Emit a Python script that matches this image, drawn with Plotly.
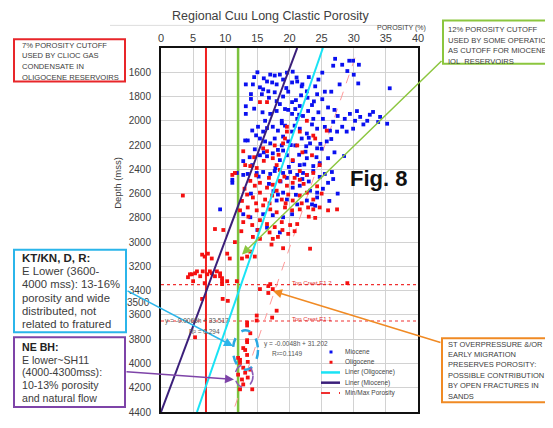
import plotly.graph_objects as go

# ---------------- data ----------------
miocene_por = [27.1,28.2,29.3,29.9,30.8,26.8,17.0,17.7,18.5,19.6,20.5,21.1,25.1,13.2,14.3,15.4,15.9,16.7,17.7,
               16.5,17.3,19.0,20.4,21.2,21.9,22.7,24.0,24.3,25.1,30.7,35.6,15.7,18.0,18.5,19.3,20.4,20.9,21.6,
               13.2,17.0,18.0,18.8,20.4,21.2,22.1,22.9,23.7,25.2,26.8,27.5,28.6,29.4,30.2,31.0,32.1,33.0,34.1,35.2,
               15.1,15.9,17.4,18.2,19.3,20.4,21.6,22.7,24.3,26.3,27.4,28.2,28.9,29.9,
               13.1,13.5,15.4,17.0,17.7,18.8,19.8,20.9,21.9,23.2,24.3,25.8,
               12.8,14.2,15.4,16.5,17.4,18.5,19.6,20.5,21.6,22.7,23.7,24.7,26.0,
               11.8,12.8,13.5,14.9,15.9,17.0,17.7,19.0,20.1,21.2,22.1,22.7,23.7,24.7,25.5,26.6,
               11.1,11.1,26.0,9.2,13.9,12.8,15.9,17.4,19.0,20.4,18.0,19.6,21.2,22.7,24.3,23.5,20.5,21.6,23.2,24.3,18.2,19.0,
               14.6,16.0,19.0,22.5,25.0,27.0,28.5,16.8,18.6,22.0,25.2,27.5,24.0,26.2,21.0,17.5,14.0,15.0,16.5,18.5,
               13.2,14.0,22.8,23.5,26.0,30.5,32.5,16.2,14.8,19.0,23.0,26.5,31.5,33.8,29.0,30.0,27.8,26.5,19.8,21.8,14.5,
               15.0,16.0,18.0,19.5,22.0,23.0,24.5,14.0,16.8,19.0,21.0,23.8,25.5,14.5,15.8,19.8,21.5,24.5,27.0,16.5,
               18.8,20.8,23.5,25.5,14.2,16.2,18.2,20.2,22.6,24.8,13.8,17.8,19.9,22.3,24.2,21.5,15.2,19.6,23.0,26.8]
miocene_depth = [1489,1538,1505,1505,1538,1546,1619,1627,1619,1603,1595,1643,1603,1700,1700,1724,1741,1757,1765,
                 1676,1684,1660,1684,1676,1716,1757,1716,1781,1822,1692,1732,1781,1838,1862,1903,1846,1903,1878,
                 1943,1943,1919,2000,1943,1984,1960,1919,1984,1984,2008,1960,1984,1943,2000,1968,2000,1927,1968,2024,
                 2049,2089,2049,2081,2040,2089,2065,2105,2065,2081,2089,2049,2089,2065,
                 2162,2162,2146,2186,2146,2203,2170,2203,2146,2186,2227,2170,
                 2332,2365,2284,2292,2268,2324,2284,2332,2365,2308,2373,2349,2308,
                 2430,2446,2438,2430,2422,2438,2414,2430,2422,2446,2430,2446,2414,2462,2438,2422,
                 2511,2486,2511,2730,2795,2770,2770,2778,2795,2770,2657,2649,2689,2657,2632,2689,2551,2535,2576,2592,2608,2592,
                 2235,2260,2245,2255,2230,2260,2290,2520,2500,2480,2560,2600,2700,2660,2610,2580,2600,2900,2880,2920,
                 1880,1820,1810,1870,1890,1920,1950,2000,2120,2130,2140,2150,2030,2010,1590,1620,1700,1760,1760,1790,1640,
                 1600,1650,1700,1730,1700,1640,1660,1780,1810,1800,1830,1840,1760,1900,1930,1910,1950,1930,1910,2060,
                 2020,2040,2030,2050,2080,2170,2240,2200,2210,2190,2300,2390,2380,2360,2300,2280,2460,2470,2500,2480]

oligocene_por = [15.4,16.5,15.9,16.5,17.7,19.6,19.6,19.3,19.0,21.6,22.7,21.2,23.7,24.0,25.8,23.5,12.8,13.1,13.9,14.9,
                 17.4,18.0,18.5,20.5,21.6,22.7,23.7,24.7,11.1,11.5,3.4,
                 13.9,14.6,15.4,16.5,17.4,18.5,19.6,20.5,21.6,
                 13.4,14.3,15.4,16.2,17.3,18.0,18.8,19.8,20.5,21.6,22.7,23.7,24.7,26.0,27.4,
                 12.3,13.5,14.9,15.9,17.0,18.0,19.3,20.4,21.6,22.9,23.7,
                 12.8,14.2,15.4,16.5,17.7,18.8,20.1,21.2,
                 14.3,15.4,17.4,18.2,19.8,23.2,
                 8.4,9.7,10.3,10.7,12.6,13.4,14.6,13.9,6.4,6.8,7.3,7.9,
                 4.5,5.3,6.1,6.5,7.2,7.9,8.4,9.2,9.5,5.0,10.3,11.8,17.0,29.0,
                 4.2,4.8,5.6,7.6,8.7,9.2,9.5,6.8,9.5,6.4,9.6,10.4,
                 15.4,16.7,16.7,17.4,18.0,17.3,14.9,14.9,13.4,13.4,13.9,13.4,12.8,12.0,12.3,13.4,13.5,12.8,13.9,13.1,
                 5.3,13.4,13.1,12.3,12.0,12.6,13.5,12.8,12.3,14.2,
                 14.8,16.8,19.2,20.8,22.2,24.3,25.0,13.0,12.6,14.8,16.9,19.4,21.9,23.0,24.0,13.6,15.1,16.9,18.9,20.8,
                 12.5,17.2,19.0,11.5,18.3,16.0,22.0,14.5]
oligocene_depth = [1846,1846,2227,2251,2203,2049,2089,2146,2186,2089,2000,2203,2122,2146,2081,2284,2251,2365,2373,2389,
                   2308,2365,2405,2324,2414,2446,2430,2365,2446,2430,2616,
                   2495,2535,2511,2551,2527,2495,2535,2511,2486,
                   2608,2632,2592,2649,2616,2576,2649,2608,2657,2616,2592,2649,2714,2738,2730,
                   2738,2714,2738,2697,2730,2754,2714,2738,2730,2714,2730,
                   2835,2859,2819,2851,2876,2835,2859,2851,
                   2957,2973,2973,2957,2932,3054,
                   2892,2900,3095,3135,3135,3119,3119,3078,3103,3119,3095,3135,
                   3265,3257,3281,3241,3265,3257,3281,3257,3297,3322,3322,3322,3346,3338,
                   3289,3265,3241,3241,3241,3281,3322,3338,3346,3468,3468,3484,
                   3387,3362,3419,3387,3565,3622,3605,3646,3662,3687,3751,3824,3873,3954,3995,3930,3987,4035,4051,4076,
                   3784,3808,3889,3970,4092,4132,4116,4173,4213,4213,
                   2450,2470,2460,2470,2520,2540,2600,2560,2660,2680,2680,2680,2680,2790,2800,2790,2900,2920,2900,2910,
                   2910,3020,3050,3000,2280,2330,2260,2300]

liner_oligocene_por = [25.2, 5.6]
liner_oligocene_depth = [1400, 4400]
liner_miocene_por = [21.2, 0.0]
liner_miocene_depth = [1400, 4400]
minmax_por = [30.2, 11.2]
minmax_depth = [1480, 4400]
cutoff_7 = 7
cutoff_12 = 12
crest_depths = [3350, 3650]
crest_labels = ["Top Crest E1.2", "Top Crest E1.1"]

x_ticks = [0, 5, 10, 15, 20, 25, 30, 35, 40]
y_ticks = list(range(1600, 4401, 200))
x_range = [0, 40]
y_range = [4400, 1400]

# ---------------- layout helpers (reference pixel -> paper) ----------------
OFF = 8                      # page body margin
W, H = 553 - OFF, 428 - OFF
L, R, T, B = 161, 418, 48, 418   # plot frame in reference pixels
def px(x):
    return (x - L) / (R - L)
def py(y):
    return (B - y) / (B - T)

fig = go.Figure()

fig.add_trace(go.Scatter(x=[cutoff_7, cutoff_7], y=[y_range[1], y_range[0]], mode="lines",
                         line=dict(color="#f02020", width=2), showlegend=False))
fig.add_trace(go.Scatter(x=[cutoff_12, cutoff_12], y=[y_range[1], y_range[0]], mode="lines",
                         line=dict(color="#7cc23f", width=2.5), showlegend=False))
for d in crest_depths:
    fig.add_trace(go.Scatter(x=x_range, y=[d, d], mode="lines",
                             line=dict(color="#f03030", width=1.2, dash="dot"), showlegend=False))
fig.add_trace(go.Scatter(x=minmax_por, y=minmax_depth, mode="lines",
                         line=dict(color="#ff9a9a", width=1, dash="dash"), name="Min/Max Porosity", showlegend=False))
fig.add_trace(go.Scatter(x=miocene_por, y=miocene_depth, mode="markers", name="Miocene",
                         marker=dict(symbol="square", size=3.8, color="#0a10f0"), showlegend=False))
fig.add_trace(go.Scatter(x=oligocene_por, y=oligocene_depth, mode="markers", name="Oligocene",
                         marker=dict(symbol="square", size=3.8, color="#f51010"), showlegend=False))
fig.add_trace(go.Scatter(x=liner_oligocene_por, y=liner_oligocene_depth, mode="lines", name="Liner (Oligocene)",
                         line=dict(color="#19e3f5", width=2), showlegend=False))
fig.add_trace(go.Scatter(x=liner_miocene_por, y=liner_miocene_depth, mode="lines", name="Liner (Miocene)",
                         line=dict(color="#3b1f7a", width=2), showlegend=False))

shapes = []
ann = []
FONT = "Liberation Sans, Arial, sans-serif"
TXT = "#3c3c3c"

def text(x, y, s, size, color=TXT, xanchor="left", bold=False, angle=0):
    if bold:
        s = "<b>" + s + "</b>"
    ann.append(dict(x=px(x), y=py(y), xref="paper", yref="paper", text=s, showarrow=False,
                    xanchor=xanchor, yanchor="middle", textangle=angle,
                    font=dict(family=FONT, size=size, color=color)))

def box(x0, y0, x1, y1, color, width=2):
    shapes.append(dict(type="rect", xref="paper", yref="paper", x0=px(x0), x1=px(x1), y0=py(y1), y1=py(y0),
                       line=dict(color=color, width=width), fillcolor="white", layer="above"))

def arrow(tx, ty, hx, hy, color, width=1.5):
    ann.append(dict(x=px(hx), y=py(hy), xref="paper", yref="paper", ax=tx - hx, ay=ty - hy,
                    text="", showarrow=True, arrowhead=2, arrowsize=1.2, arrowwidth=width,
                    arrowcolor=color, standoff=0, startstandoff=0))

# title and underline
text(270, 15, "Regional Cuu Long Clastic Porosity", 12.5, "#404040", xanchor="center")
shapes.append(dict(type="line", xref="paper", yref="paper", x0=px(110), x1=px(420), y0=py(25), y1=py(25),
                   line=dict(color="#dddddd", width=1)))
text(428, 27.5, "POROSITY (%)", 7, "#404040", xanchor="right")
text(118, 185, "Depth (mss)", 9.5, "#404040", xanchor="center", angle=-90)
text(152, 307, "3500", 10, "#404040", xanchor="right")

# red box
box(14, 39, 125, 82, "#e8262a")
for i, s in enumerate(["7% POROSITY CUTOFF", "USED BY CLIOC GAS", "CONDENSATE IN", "OLIGOCENE RESERVOIRS"]):
    text(20, 45 + i * 11, s, 7.6)

# green box
box(443, 20, 570, 64, "#8cc63f")
for i, s in enumerate(["12% POROSITY CUTOFF", "USED BY SOME OPERATION", "AS CUTOFF FOR MIOCENE", "IOL  RESERVOIRS"]):
    text(446, 29 + i * 11, s, 7.6)
arrow(443, 63, 242, 258, "#8cc63f")

# cyan box
box(14, 253, 126, 337, "#2bb5ea")
cy_lines = ["KT/KN, D, R:", "E Lower (3600-", "4000 mss): 13-16%", "porosity and wide", "distributed, not", "related to fratured"]
for i, s in enumerate(cy_lines):
    text(20, 261 + i * 13.6, s, 11.3 if i else 11.5, "#222222" if i == 0 else TXT, bold=(i == 0))
arrow(126, 295, 233, 351, "#2bb5ea")

# purple box
box(14, 342, 125, 413, "#7e44a8")
pu_lines = ["NE BH:", "E lower~SH11", "(4000-4300mss):", "10-13% porosity", "and natural flow"]
for i, s in enumerate(pu_lines):
    text(20, 352 + i * 12.9, s, 10.6, "#222222" if i == 0 else TXT, bold=(i == 0))
arrow(125, 377, 234, 385, "#7e44a8")

# orange box
box(442, 343, 550, 408, "#f08a24")
or_lines = ["ST OVERPRESSURE &/OR", "EARLY MIGRATION", "PRESERVES POROSITY:", "POSSIBLE CONTRIBUTION",
            "BY OPEN FRACTURES IN", "SANDS"]
for i, s in enumerate(or_lines):
    text(446, 349 + i * 10.6, s, 7.5)
arrow(442, 347, 273, 295, "#f08a24")

# dashed ellipses
shapes.append(dict(type="circle", xref="paper", yref="paper", x0=px(233), x1=px(258), y0=py(375), y1=py(335),
                   line=dict(color="#2ba8e2", width=2.5, dash="dash")))
shapes.append(dict(type="circle", xref="paper", yref="paper", x0=px(235), x1=px(253), y0=py(393), y1=py(370),
                   line=dict(color="#8a5bb8", width=1.5, dash="dash")))

# crest labels
for d, lab in zip(crest_depths, crest_labels):
    ann.append(dict(x=23.5, y=d, xref="x", yref="y", text=lab, showarrow=False, yanchor="bottom", yshift=-3,
                    font=dict(family=FONT, size=6, color="#e03030")))

# regression text
text(163, 325, "y = -0.0068h + 33.517", 6.5, "#555555")
text(187, 336, "R² = 0.294", 6.5, "#555555")
text(262, 349, "y = -0.0048h + 31.202", 6.5, "#555555")
text(270, 359, "R²=0.1149", 6.5, "#555555")

# Fig. 8
text(378, 181, "Fig. 8", 22, "#111111", xanchor="center", bold=True)

# manual legend
leg_items = [("Miocene", "marker", "#0a10f0"), ("Oligocene", "marker", "#f51010"),
             ("Liner (Oligocene)", "line", "#19e3f5"), ("Liner (Miocene)", "line", "#3b1f7a"),
             ("Min/Max Porosity", "dash", "#f03030")]
for i, (lab, kind, col) in enumerate(leg_items):
    yy = 357 + i * 10.4
    if kind == "marker":
        shapes.append(dict(type="rect", xref="paper", yref="paper", x0=px(329.5), x1=px(332.5),
                           y0=py(yy + 1.5), y1=py(yy - 1.5), line=dict(width=0), fillcolor=col))
    else:
        shapes.append(dict(type="line", xref="paper", yref="paper", x0=px(321), x1=px(340), y0=py(yy), y1=py(yy),
                           line=dict(color=col, width=2.5 if kind != "dash" else 2,
                                     dash="dash" if kind == "dash" else "solid")))
    text(343, yy, lab, 6.5, "#444444")

fig.update_layout(
    width=W, height=H,
    margin=dict(l=L - OFF, r=553 - R, t=T - OFF, b=428 - B),
    paper_bgcolor="white", plot_bgcolor="white",
    font=dict(family=FONT, color="#404040"),
    showlegend=False,
    shapes=shapes, annotations=ann,
    xaxis=dict(range=x_range, side="top", tickvals=x_ticks, showgrid=True, gridcolor="#d2d2d2", gridwidth=1,
               showline=True, linecolor="#111111", linewidth=2, mirror=True, zeroline=False,
               tickfont=dict(size=11, color="#404040"), ticks=""),
    yaxis=dict(range=y_range, tickvals=y_ticks, showgrid=True, gridcolor="#d2d2d2", gridwidth=1,
               showline=True, linecolor="#111111", linewidth=2, mirror=True, zeroline=False,
               tickfont=dict(size=10, color="#404040"), ticks="", ticklabelstandoff=6),
)

fig.write_html("out.html")
